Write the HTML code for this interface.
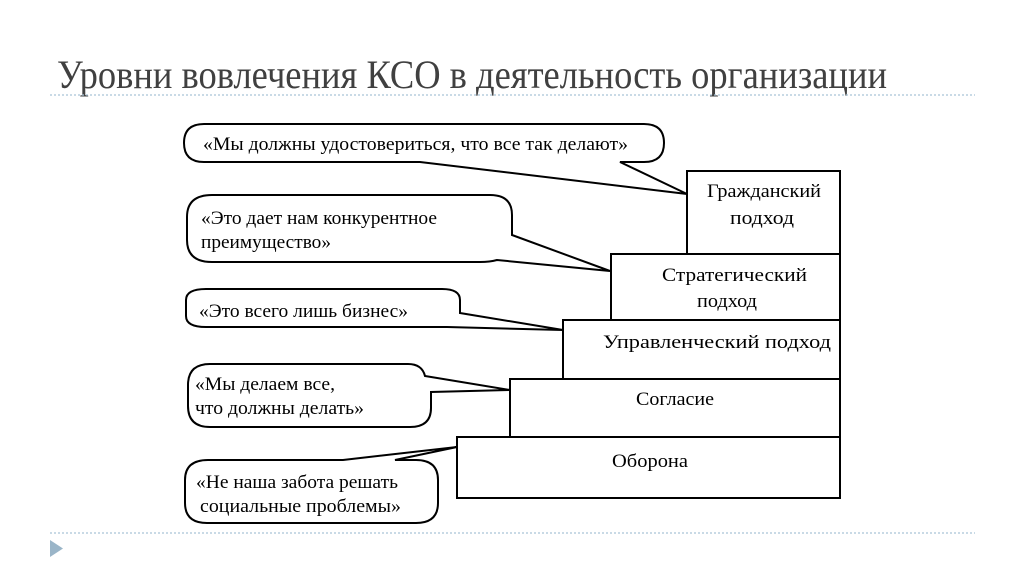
<!DOCTYPE html>
<html><head><meta charset="utf-8"><style>
html,body{margin:0;padding:0;background:#fff;}
svg{display:block;}
</style></head><body>
<svg width="1024" height="574" viewBox="0 0 1024 574" xmlns="http://www.w3.org/2000/svg">
<rect width="1024" height="574" fill="#fff"/>
<text x="57" y="88" font-family="Liberation Serif, serif" font-size="40" fill="#404040" textLength="830" lengthAdjust="spacingAndGlyphs">Уровни вовлечения КСО в деятельность организации</text>
<line x1="50" y1="95" x2="975" y2="95" stroke="#a9c3d6" stroke-width="1.2" stroke-dasharray="2,2"/>
<line x1="50" y1="533" x2="975" y2="533" stroke="#a9c3d6" stroke-width="1.2" stroke-dasharray="2,2"/>
<polygon points="50,540 63,548.5 50,557" fill="#9ab5c8"/>

<g fill="#fff" stroke="#000" stroke-width="2">
<rect x="687" y="171" width="153" height="83"/>
<rect x="611" y="254" width="229" height="66"/>
<rect x="563" y="320" width="277" height="59"/>
<rect x="510" y="379" width="330" height="58"/>
<rect x="457" y="437" width="383" height="61"/>
<path d="M204,124 H644 Q664,124 664,143 Q664,162 644,162 H620 L687,194 L420,162 H204 Q184,162 184,143 Q184,124 204,124 Z"/>
<path d="M212,195 H490 Q512,195 512,215 V235 L610,271 L497,260 Q490,262 480,262 H212 Q187,262 187,240 V217 Q187,195 212,195 Z"/>
<path d="M206,289 H442 Q460,289 460,300 V313 L563,330 L447,327 H206 Q186,327 186,316 V300 Q186,289 206,289 Z"/>
<path d="M210,364 H408 Q422,364 425,376 L510,390 L431,392 V408 Q431,427 410,427 H210 Q188,427 188,406 V385 Q188,364 210,364 Z"/>
<path d="M208,460 H343 L457,447 L395,460 H416 Q438,460 438,480 V503 Q438,523 416,523 H207 Q185,523 185,503 V480 Q185,460 208,460 Z"/>
</g>

<g font-family="Liberation Serif, serif" font-size="19" fill="#000" lengthAdjust="spacingAndGlyphs">
<text x="203" y="150" textLength="425" lengthAdjust="spacingAndGlyphs">«Мы должны удостовериться, что все так делают»</text>
<text x="201" y="224" textLength="236" lengthAdjust="spacingAndGlyphs">«Это дает нам конкурентное</text>
<text x="201" y="248" textLength="130" lengthAdjust="spacingAndGlyphs">преимущество»</text>
<text x="199" y="317" textLength="209" lengthAdjust="spacingAndGlyphs">«Это всего лишь бизнес»</text>
<text x="195" y="390" textLength="140" lengthAdjust="spacingAndGlyphs">«Мы делаем все,</text>
<text x="195" y="414" textLength="169" lengthAdjust="spacingAndGlyphs">что должны делать»</text>
<text x="196" y="488" textLength="202" lengthAdjust="spacingAndGlyphs">«Не наша забота решать</text>
<text x="200" y="512" textLength="201" lengthAdjust="spacingAndGlyphs">социальные проблемы»</text>
<text x="707" y="197" textLength="114" lengthAdjust="spacingAndGlyphs">Гражданский</text>
<text x="730" y="224" textLength="64" lengthAdjust="spacingAndGlyphs">подход</text>
<text x="662" y="281" textLength="145" lengthAdjust="spacingAndGlyphs">Стратегический</text>
<text x="697" y="307" textLength="60" lengthAdjust="spacingAndGlyphs">подход</text>
<text x="603" y="348" textLength="228" lengthAdjust="spacingAndGlyphs">Управленческий подход</text>
<text x="636" y="405" textLength="78" lengthAdjust="spacingAndGlyphs">Согласие</text>
<text x="612" y="467" textLength="76" lengthAdjust="spacingAndGlyphs">Оборона</text>
</g>
</svg>
</body></html>
